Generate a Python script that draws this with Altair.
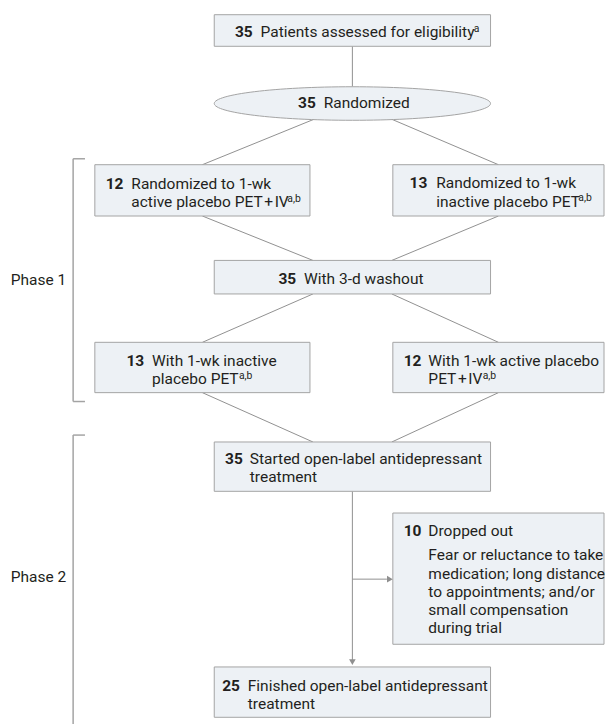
import altair as alt
import pandas as pd

# ---------------- content ----------------
counts = [35, 35, 12, 13, 35, 13, 12, 35, 10, 25]
node_lines = [
    ["Patients assessed for eligibility"],
    ["Randomized"],
    ["Randomized to 1-wk", "active placebo PET\u200a+\u200aIV"],
    ["Randomized to 1-wk", "inactive placebo PET"],
    ["With 3-d washout"],
    ["With 1-wk inactive", "placebo PET"],
    ["With 1-wk active placebo", "PET\u200a+\u200aIV"],
    ["Started open-label antidepressant", "treatment"],
    ["Dropped out"],
    ["Finished open-label antidepressant", "treatment"],
]
node_notes = ["a", "", "a,b", "a,b", "", "a,b", "a,b", "", "", ""]
dropout_reasons = [
    "Fear or reluctance to take",
    "medication; long distance",
    "to appointments; and/or",
    "small compensation",
    "during trial",
]
phase_labels = ["Phase 1", "Phase 2"]

# ---------------- layout (page pixels) ----------------
box_x0 = [217, 96, 398, 217, 96, 398, 217, 398, 217]
box_x1 = [497, 314, 612, 497, 314, 612, 497, 612, 497]
box_y0 = [10, 162, 162, 259, 342, 342, 443, 515, 671]
box_y1 = [42, 214, 214, 293, 393, 393, 493, 648, 722]
ellipse_center = (357, 100)
ellipse_w, ellipse_h = 280, 34

num_x = [238, 302, 107, 415, 282, 128, 409, 228, 409, 225]
txt_x = [264, 328, 133, 442, 308, 154, 434, 253, 434, 251]
base_y = [33, 105, 186.5, 186, 283, 366, 366, 465, 538, 695]
note_x = [480, 0, 291, 586, 0, 242, 489, 0, 0, 0]
line_gap = 18.5
reason_y0 = 563

connectors = [  # x, y, x2, y2
    (357, 42, 357, 83),
    (318, 116, 205, 162),
    (397, 116, 505, 162),
    (205, 214, 317, 259),
    (505, 214, 397, 259),
    (317, 293, 205, 342),
    (397, 293, 505, 342),
    (205, 393, 317, 443),
    (505, 393, 397, 443),
    (357, 493, 357, 664),
    (357, 582, 392, 582),
]
arrow_tips = [(357, 666, "triangle-down"), (395, 582, "triangle-right")]
brackets = [  # x, y, x2, y2
    (74, 156, 74, 402), (74, 156, 86, 156), (74, 402, 86, 402),
    (74, 436, 74, 730), (74, 436, 86, 436),
]
phase_y = [279, 580]

# ---------------- style ----------------
FONT = "Roboto"
FS = 15.7
TXT = "#231f20"
FILL = "#edf1f5"
STROKE = "#a3a3a3"
LINE = "#8f8f8f"

xs = alt.Scale(domain=[8, 613], nice=False, zero=False)
ys = alt.Scale(domain=[8, 724], nice=False, zero=False, reverse=True)
X = alt.X("x:Q", scale=xs, axis=None)
Y = alt.Y("y:Q", scale=ys, axis=None)

# ---------------- data frames ----------------
boxes = pd.DataFrame({"x": box_x0, "x2": box_x1, "y": box_y0, "y2": box_y1})
conn = pd.DataFrame(connectors, columns=["x", "y", "x2", "y2"])
brk = pd.DataFrame(brackets, columns=["x", "y", "x2", "y2"])
arrows = pd.DataFrame(arrow_tips, columns=["x", "y", "shape"])

nums = pd.DataFrame({"x": num_x, "y": base_y, "text": [str(c) for c in counts]})
rows = []
for i, lines in enumerate(node_lines):
    for j, t in enumerate(lines):
        rows.append({"x": txt_x[i], "y": base_y[i] + j * line_gap, "text": t})
for j, t in enumerate(dropout_reasons):
    rows.append({"x": txt_x[8], "y": reason_y0 + j * line_gap, "text": t})
texts = pd.DataFrame(rows)

notes_rows = []
for i, n in enumerate(node_notes):
    if n:
        last = base_y[i] + (len(node_lines[i]) - 1) * line_gap
        notes_rows.append({"x": note_x[i], "y": last - 5.5, "text": n})
notes = pd.DataFrame(notes_rows)

phases = pd.DataFrame({"x": [67, 67], "y": phase_y, "text": phase_labels})
ell = pd.DataFrame({"x": [ellipse_center[0]], "y": [ellipse_center[1]]})

ry = ellipse_h / ellipse_w
ell_path = f"M -1 0 A 1 {ry:.4f} 0 1 0 1 0 A 1 {ry:.4f} 0 1 0 -1 0 Z"

# ---------------- layers ----------------
conn_layer = alt.Chart(conn).mark_rule(color=LINE, strokeWidth=1).encode(
    x=X, y=Y, x2="x2:Q", y2="y2:Q")
brk_layer = alt.Chart(brk).mark_rule(color=STROKE, strokeWidth=1.5).encode(
    x=X, y=Y, x2="x2:Q", y2="y2:Q")
box_layer = alt.Chart(boxes).mark_rect(fill=FILL, stroke=STROKE, strokeWidth=1).encode(
    x=X, y=Y, x2="x2:Q", y2="y2:Q")
ell_layer = alt.Chart(ell).mark_point(
    shape=ell_path, size=ellipse_w ** 2, filled=True, fill=FILL, stroke=STROKE,
    strokeWidth=1, opacity=1, fillOpacity=1, strokeOpacity=1).encode(x=X, y=Y)
arrow_layer = alt.Chart(arrows).mark_point(
    filled=True, size=45, color=LINE, opacity=1).encode(
    x=X, y=Y, shape=alt.Shape("shape:N", scale=None, legend=None))

num_layer = alt.Chart(nums).mark_text(
    align="left", baseline="alphabetic", font=FONT, fontSize=FS,
    fontWeight="bold", color=TXT).encode(x=X, y=Y, text="text:N")
txt_layer = alt.Chart(texts).mark_text(
    align="left", baseline="alphabetic", font=FONT, fontSize=FS,
    color=TXT).encode(x=X, y=Y, text="text:N")
note_layer = alt.Chart(notes).mark_text(
    align="left", baseline="alphabetic", font=FONT, fontSize=10.5,
    color=TXT).encode(x=X, y=Y, text="text:N")
phase_layer = alt.Chart(phases).mark_text(
    align="right", baseline="middle", font=FONT, fontSize=FS,
    color=TXT).encode(x=X, y=Y, text="text:N")

chart = alt.layer(
    conn_layer, brk_layer, box_layer, ell_layer, arrow_layer,
    num_layer, txt_layer, note_layer, phase_layer,
).properties(
    width=605, height=716, padding=0,
    autosize=alt.AutoSizeParams(type="none"),
    background="white",
).configure_view(stroke=None)

chart.save("out.html", embed_options={"renderer": "svg", "actions": False})
